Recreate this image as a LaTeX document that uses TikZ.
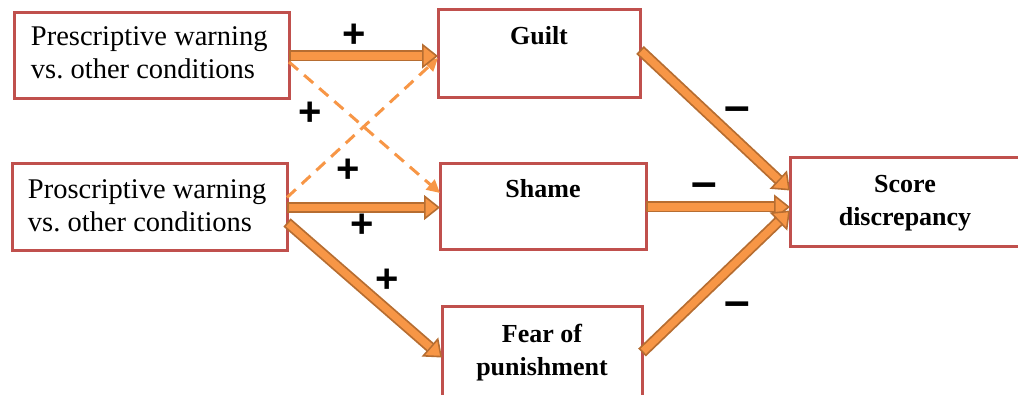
\documentclass[tikz,border=0pt]{standalone}
\usepackage{fontspec}
\setmainfont{Liberation Serif}
\newfontfamily\signfont{Liberation Sans}
\usetikzlibrary{arrows.meta}
\definecolor{boxred}{HTML}{C0504D}
\definecolor{arrowfill}{HTML}{F79646}
\definecolor{arrowedge}{HTML}{B66D31}
\tikzset{
  box/.style={draw=boxred, line width=3pt, rectangle, inner sep=0pt, outer sep=0pt, fill=white,
    font=\fontsize{26}{33}\selectfont},
  regtext/.style={font=\fontsize{28.5}{33}\selectfont},
  blk/.style={line width=11pt, draw=arrowedge,
    -{Triangle[length=16pt,width=25pt,fill=arrowfill,line width=1.6pt]},
    postaction={draw=arrowfill, line width=7.4pt, -, shorten >=16pt, shorten <=1.8pt}},
  dsh/.style={draw=arrowfill, line width=3pt, dash pattern=on 12pt off 8pt,
    -{Triangle[length=13pt,width=13pt]}},
  sign/.style={font=\signfont\bfseries\fontsize{40}{40}\selectfont, inner sep=0pt},
  minussign/.style={font=\signfont\bfseries\fontsize{46}{46}\selectfont, inner sep=0pt}
}
\begin{document}
\begin{tikzpicture}[x=1pt,y=-1pt]
\useasboundingbox (0,0) rectangle (1018,395);
% boxes
\node[box,regtext] (b1) at (151.5,56) {\parbox[c][86pt][t]{275pt}{\raggedright\leftskip=17pt\rule{0pt}{33pt}Prescriptive warning\\vs.\ other conditions}};
\node[box,regtext] (b2) at (149.5,207.5) {\parbox[c][87pt][t]{275pt}{\raggedright\leftskip=16pt\rule{0pt}{35pt}Proscriptive warning\\vs.\ other conditions}};
\node[box] (guilt) at (539,54) {\parbox[c][88pt][t]{202pt}{\centering\bfseries\rule{0pt}{35pt}Guilt}};
\node[box] (shame) at (543,207) {\parbox[c][86pt][t]{206pt}{\centering\bfseries\rule{0pt}{34pt}Shame}};
\node[box] (fear) at (542,352.5) {\parbox[c][91pt][t]{200pt}{\centering\bfseries\rule{0pt}{36pt}Fear of\\punishment}};
\node[box] (score) at (905,202.5) {\parbox[c][89pt][t]{230pt}{\centering\bfseries\rule{0pt}{35pt}Score\\discrepancy}};
% dashed cross connectors
\draw[dsh] ([yshift=-6pt]b1.east) -- ([yshift=14pt]shame.west);
\draw[dsh] ([yshift=10pt]b2.east) -- ([yshift=-4pt]guilt.west);
% block arrows
\draw[blk] (b1.east) -- (b1.east -| guilt.west);
\draw[blk] (b2.east) -- (b2.east -| shame.west);
\draw[blk] ([yshift=-15pt]b2.east) -- ([yshift=-5pt]fear.west);
\draw[blk] ([yshift=4pt]guilt.east) -- ([yshift=12pt]score.west);
\draw[blk] (shame.east) -- (shame.east -| score.west);
\draw[blk] (fear.east) -- ([yshift=-8pt]score.west);
% signs
\node[sign] (p1) at (354,36) {+};
\node[sign] (p2) at (310,114) {+};
\node[sign] (p3) at (348,171) {+};
\node[sign] (p4) at (362,226) {+};
\node[sign] (p5) at (387,281) {+};
\node[minussign] (m1) at (737,114) {–};
\node[minussign] (m2) at (704,190) {–};
\node[minussign] (m3) at (737,309) {–};
\end{tikzpicture}
\end{document}
